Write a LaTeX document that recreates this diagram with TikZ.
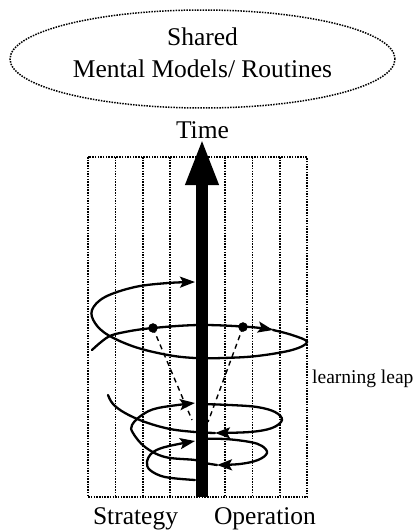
\documentclass[tikz,border=0pt]{standalone}
\usepackage{fontspec}
\setmainfont{Liberation Serif}
\usetikzlibrary{arrows.meta,shapes.geometric}
\tikzset{
 lrn frame/.style={line width=1.5pt,dash pattern=on 1.5pt off 1.2pt},
 lrn spiral/.style={line width=2.3pt,line cap=round},
 lrn tip/.style={-{Stealth[length=15pt,width=11pt,inset=3pt]}},
 lrn leap/.style={line width=1.4pt,dash pattern=on 5pt off 4pt},
 lrn vertex/.style={circle,fill=black,draw=black,minimum size=9pt,
                    inner sep=0pt,outer sep=0pt},
 lrn text/.style={font=\fontsize{25.5}{30}\selectfont,inner sep=0pt},
 lrn small/.style={font=\fontsize{19.5}{23}\selectfont,inner sep=0pt},
 lrn time/.style={line width=12pt,-{Triangle[length=47pt,width=30pt]}}
}
\begin{document}
\begin{tikzpicture}[x=1pt,y=-1pt]
 \useasboundingbox (0,0) rectangle (414,530);
 \node[draw,ellipse,lrn frame,minimum width=385pt,minimum height=98pt]
   (models) at (202.5,59) {};
 \node[lrn text,anchor=base] (shared) at (202.5,45) {Shared};
 \node[lrn text,anchor=base] (routines) at (202.5,77) {Mental Models/ Routines};
 \draw[lrn frame] (88,157) rectangle (307,497);
 \foreach \k in {1,...,7}{
   \draw[lrn frame] ({88+27.4*\k},157) -- ({88+27.4*\k},497);
 }
 % upper spiral
 \draw[lrn spiral,lrn tip] plot[smooth,tension=.6] coordinates
   {(92,350) (108,337) (125,332) (153,328) (200,325) (250,327) (273,330)};
 \draw[lrn spiral,lrn tip] plot[smooth,tension=.6] coordinates
   {(273,330) (292,335) (307,342) (292,350) (257,356) (223,358) (195,358)
    (168,355) (135,347) (108,335) (95,323) (92,310) (105,297) (135,287)
    (168,283) (195,282)};
 % lower spiral
 \draw[lrn spiral,lrn tip] plot[smooth,tension=.6] coordinates
   {(195,480) (165,477) (150,470) (147,462) (152,453) (165,447) (195,441)};
 \draw[lrn spiral,lrn tip] plot[smooth,tension=.6] coordinates
   {(199,439) (225,439) (250,442) (262,446) (267,453) (258,460) (240,464)
    (217,465)};
 \draw[lrn spiral,lrn tip] plot[smooth,tension=.6] coordinates
   {(217,465) (205,463) (195,460) (165,457) (145,447) (133,433) (132,425)
    (142,415) (158,408) (195,403)};
 \draw[lrn spiral,lrn tip] plot[smooth,tension=.6] coordinates
   {(199,404) (230,405) (257,407) (275,412) (282,420) (272,428) (250,432)
    (215,433)};
 \draw[lrn spiral] plot[smooth,tension=.6] coordinates
   {(215,433) (195,432) (170,429) (145,422) (125,413) (113,404) (108,395)};
 % learning leap
 \coordinate (ldot) at (153,328);
 \coordinate (rdot) at (243,327);
 \coordinate (lfoot) at (192,420);
 \coordinate (rfoot) at (208,422);
 \draw[lrn leap] (ldot) -- (lfoot);
 \draw[lrn leap] (rdot) -- (rfoot);
 \foreach \v in {ldot,rdot}{\node[lrn vertex] at (\v) {};}
 \coordinate (tbase) at (202,497);
 \coordinate (ttip) at (202,138);
 \draw[lrn time] (tbase) -- (ttip);
 \node[lrn text,anchor=base] (time) at (202.5,138) {Time};
 \node[lrn small,anchor=base west] (leap) at (312,383) {learning leap};
 \node[lrn text,anchor=base] (strategy) at (135.5,524) {Strategy};
 \node[lrn text,anchor=base] (operation) at (265,524) {Operation};
\end{tikzpicture}
\end{document}
